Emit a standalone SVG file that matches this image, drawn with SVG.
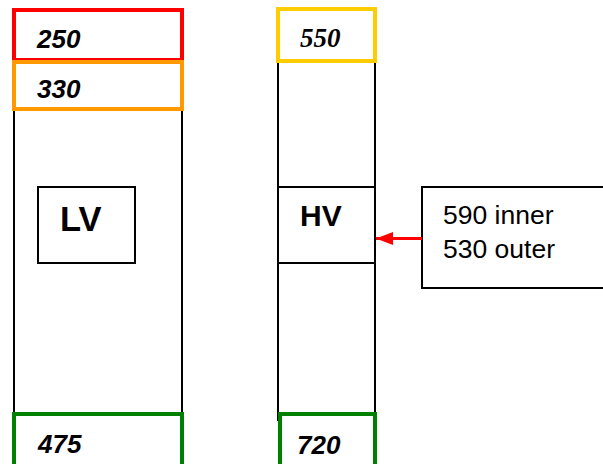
<svg xmlns="http://www.w3.org/2000/svg" width="603" height="464" viewBox="0 0 603 464">
<style>
.col{fill:none;stroke:#000;stroke-width:2}
.box{fill:#fff;stroke:#000;stroke-width:2}
.band{fill:#fff;stroke-width:4}
.num{font-family:"Liberation Sans",Arial,sans-serif;font-weight:bold;font-style:italic;font-size:26px;fill:#000}
.numserif{font-family:"Liberation Serif","Times New Roman",serif;font-weight:bold;font-style:italic;font-size:27px;fill:#000}
.lbl{font-family:"Liberation Sans",Arial,sans-serif;font-weight:bold;fill:#000}
.txt{font-family:"Liberation Sans",Arial,sans-serif;font-size:26.5px;fill:#000}
</style>
<defs>
<marker id="ah" markerUnits="userSpaceOnUse" markerWidth="18" markerHeight="14" refX="17" refY="7" orient="auto">
<path d="M0,0.5 L17,7 L0,13.5 z" fill="#f00"/>
</marker>
</defs>
<rect width="603" height="464" fill="#fff"/>
<g id="lv-column">
<rect class="col" x="14" y="60" width="168" height="360"/>
</g>
<g id="hv-column">
<rect class="col" x="278" y="60" width="97" height="360"/>
</g>
<g id="box-250">
<rect class="band" x="14" y="10" width="168" height="50" stroke="#ff0000"/>
<text class="num" x="37" y="48">250</text>
</g>
<g id="box-330">
<rect class="band" x="14" y="62" width="168" height="47" stroke="#ff9900"/>
<text class="num" x="37" y="98">330</text>
</g>
<g id="box-475">
<rect class="band" x="14" y="414" width="168" height="60" stroke="#008000"/>
<text class="num" x="38" y="453">475</text>
</g>
<g id="box-550">
<rect class="band" x="278" y="9" width="97" height="52" stroke="#ffcc00"/>
<text class="numserif" x="300" y="47">550</text>
</g>
<g id="box-720">
<rect class="band" x="280" y="414" width="95" height="60" stroke="#008000"/>
<text class="num" x="297" y="454">720</text>
</g>
<g id="lv">
<rect class="box" x="38" y="187" width="97" height="76"/>
<text class="lbl" x="60" y="231" font-size="34.5">LV</text>
</g>
<g id="hv">
<rect class="box" x="278" y="187" width="97" height="76"/>
<text class="lbl" x="300" y="226" font-size="30">HV</text>
</g>
<g id="note">
<rect class="box" x="422" y="187" width="190" height="101"/>
<text class="txt" x="443" y="224">590 inner</text>
<text class="txt" x="443" y="258">530 outer</text>
</g>
<g id="connectors">
<line x1="422" y1="238.5" x2="376" y2="238.5" stroke="#f00" stroke-width="3" marker-end="url(#ah)"/>
</g>
</svg>
